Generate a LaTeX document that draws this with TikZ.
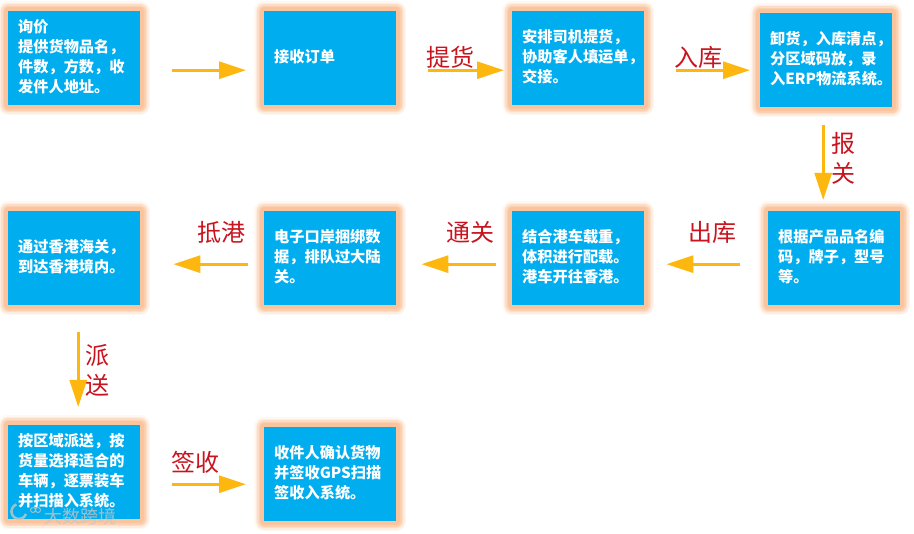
\documentclass[tikz,border=0pt]{standalone}
\usepackage{fontspec}
\setmainfont{Noto Sans CJK SC}
\usetikzlibrary{arrows.meta}
\definecolor{boxblue}{HTML}{00ADEF}
\definecolor{glowc}{HTML}{F7A468}
\definecolor{arrowc}{HTML}{FDB70F}
\definecolor{labelred}{HTML}{C8141E}
\newcommand{\boxlines}[1]{\noindent\begin{tabular}{@{}l@{}}#1\end{tabular}}
\tikzset{
  stepbox/.style={
    preaction={draw=glowc,line join=round,line width=20,opacity=.08},
    preaction={draw=glowc,line join=round,line width=17,opacity=.14},
    preaction={draw=glowc,line join=round,line width=14,opacity=.2},
    preaction={draw=glowc,line join=round,line width=11,opacity=.25},
    preaction={draw=glowc,line join=round,line width=8,opacity=.25},
    fill=boxblue,text=white,font=\fontsize{15.2}{20}\selectfont\bfseries,
    minimum width=132,minimum height=94,text width=112,align=left,
    inner xsep=0,inner ysep=0,anchor=north west},
  flow/.style={draw=arrowc,line width=3,-{Triangle[length=27,width=17]}},
  steplabel/.style={text=labelred,font=\fontsize{24}{30}\selectfont},
}
\begin{document}
\begin{tikzpicture}[x=1pt,y=-1pt]
\useasboundingbox (0,0) rectangle (914,534);
\node[stepbox] (b1) at (8,11) {\boxlines{询价\\提供货物品名，\\件数，方数，收\\发件人地址。}};
\node[stepbox] (b2) at (264,11) {\boxlines{接收订单}};
\node[stepbox] (b3) at (512,11) {\boxlines{安排司机提货，\\协助客人填运单，\\交接。}};
\node[stepbox] (b4) at (760,13) {\boxlines{卸货，入库清点，\\分区域码放，录\\入ERP物流系统。}};
\node[stepbox] (b5) at (768,211) {\boxlines{根据产品品名编\\码，牌子，型号\\等。}};
\node[stepbox] (b6) at (512,211) {\boxlines{结合港车载重，\\体积进行配载。\\港车开往香港。}};
\node[stepbox] (b7) at (264,211) {\boxlines{电子口岸捆绑数\\据，排队过大陆\\关。}};
\node[stepbox] (b8) at (8,211) {\boxlines{通过香港海关，\\到达香港境内。}};
\node[stepbox] (b9) at (8,425) {\boxlines{按区域派送，按\\货量选择适合的\\车辆，逐票装车\\并扫描入系统。}};
\node[stepbox] (b10) at (264,427) {\boxlines{收件人确认货物\\并签收GPS扫描\\签收入系统。}};
\draw[flow] ([xshift=32,yshift=-12]b1.east) -- ([xshift=-18,yshift=-12]b2.west);
\draw[flow] ([xshift=32,yshift=-12]b2.east) -- ([xshift=-8,yshift=-12]b3.west);
\draw[flow] ([xshift=32,yshift=-12]b3.east) -- ([xshift=-10,yshift=-10]b4.west);
\draw[flow] ([xshift=-3,yshift=-18]b4.south) -- ([xshift=-11,yshift=11]b5.north);
\draw[flow] ([xshift=-28,yshift=-6]b5.west) -- ([xshift=22,yshift=-6]b6.east);
\draw[flow] ([xshift=-16,yshift=-6]b6.west) -- ([xshift=25,yshift=-6]b7.east);
\draw[flow] ([xshift=-16,yshift=-6]b7.west) -- ([xshift=33,yshift=-6]b8.east);
\draw[flow] ([xshift=4,yshift=-27]b8.south) -- ([xshift=4,yshift=18]b9.north);
\draw[flow] ([xshift=32,yshift=-12]b9.east) -- ([xshift=-18,yshift=-10]b10.west);
\node[steplabel] (l1) at (450,57) {提货};
\node[steplabel] (l2) at (698,57) {入库};
\node[steplabel] (l3) at (843,143) {报};
\node[steplabel] (l4) at (843,173) {关};
\node[steplabel] (l5) at (712,232) {出库};
\node[steplabel] (l6) at (470,232) {通关};
\node[steplabel] (l7) at (221,232) {抵港};
\node[steplabel] (l8) at (97,355) {派};
\node[steplabel] (l9) at (97,385) {送};
\node[steplabel] (l10) at (195,462) {签收};
\node[text=gray!45,font=\fontsize{18}{20}\selectfont,opacity=.8,inner sep=0] (wm) at (81,517) {大数跨境};
\draw[gray!45,line width=2.5,opacity=.8] (26,514) arc (20:250:7.5);
\draw[gray!45,line width=1,opacity=.8] (33,510) circle (2.5) (38,510) circle (2.5);
\end{tikzpicture}
\end{document}
